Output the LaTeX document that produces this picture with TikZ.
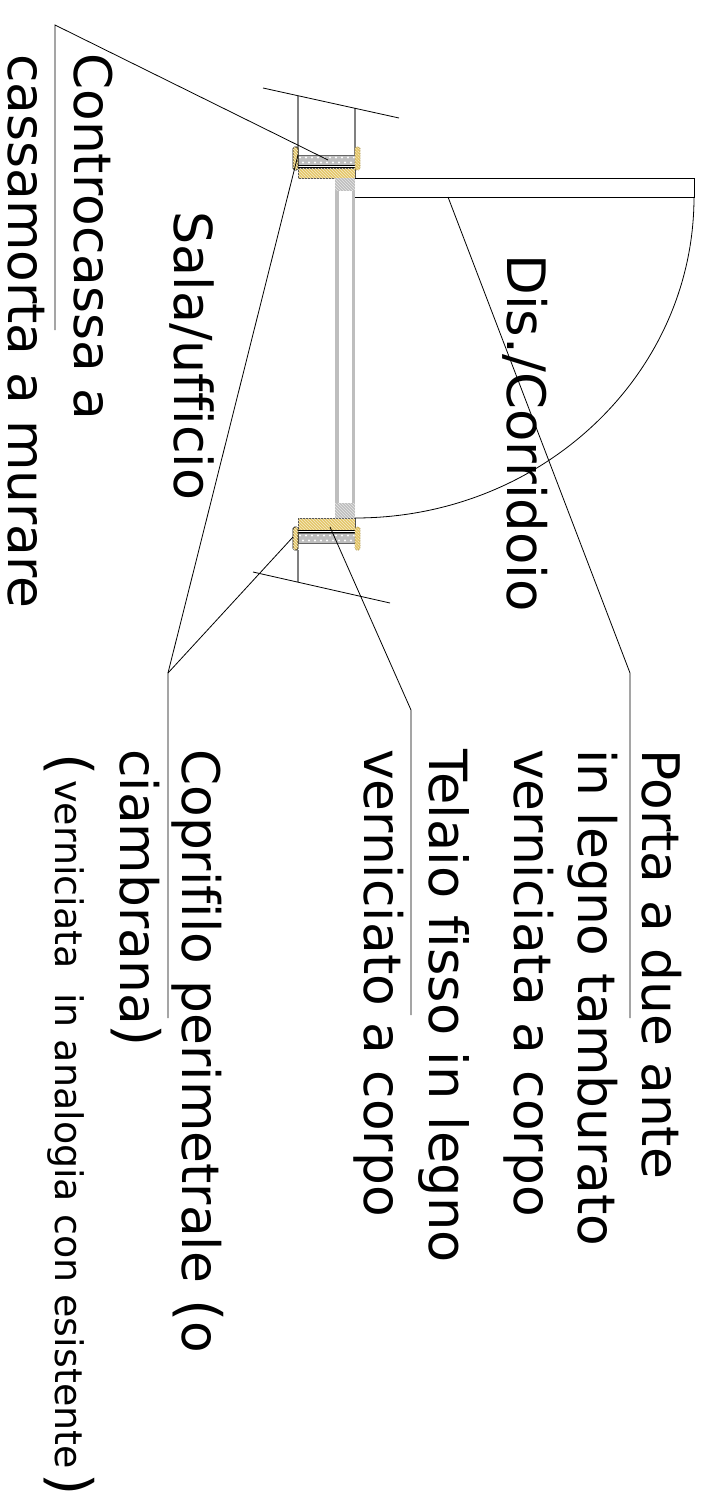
\documentclass[tikz,border=0pt]{standalone}
\usepackage{fontspec}
\setmainfont{DejaVu Sans}[Ligatures=NoCommon]
\usetikzlibrary{patterns}
\definecolor{woodyellow}{RGB}{228,198,105}
\definecolor{fillgray}{RGB}{190,190,190}
\newcommand{\sizedtext}[1]{\fontsize{#1}{60}\selectfont}
\newcommand{\tallparen}[2]{\raisebox{#1}{\sizedtext{57}#2}}
\tikzset{
  bigtext/.style={inner sep=0pt,rotate=-90,anchor=base west,font=\sizedtext{51.8}},
  leader/.style={black,line width=0.8pt},
  wall/.style={gray,line width=1.3pt},
  wood/.style={fill=woodyellow,postaction={pattern=north west lines,pattern color=woodyellow!35!white}},
  insul/.style={fill=fillgray},
  grain/.style={white,inner sep=0pt},
  leafcore/.style={fill=fillgray,postaction={pattern=north west lines,pattern color=fillgray!35!white}},
}
\begin{document}
\begin{tikzpicture}[x=1pt,y=-1pt]
\useasboundingbox (0,0) rectangle (714,1506);
% walls
\draw [wall] (298,96) -- (298,155);
\draw [wall] (355,108) -- (355,155);
\draw [wall] (298,550) -- (298,582);
\draw [leader] (263,88) -- (399,118);
\draw [leader] (253,572) -- (390,603);
% top jamb
\draw [insul,draw=black!60,line width=0.4pt] (298,155) rectangle (355,165);
\draw [wood,draw=black!70,line width=0.7pt] (298,168) rectangle (355,178.5);
\foreach \x in {300,306,...,354} {
  \fill [grain] (\x,157.5) circle (1.1);
  \fill [grain] (\x+3,162.5) circle (1.1);
}
\draw [black,line width=1.1pt] (298,165.5) -- (355,165.5);
\draw [black,line width=0.8pt] (298,167.5) -- (355,167.5);
\draw [wood,draw=black,line width=0.7pt,rounded corners=1.5pt] (293,147) rectangle (298,170);
\draw [wood,draw=woodyellow!70!black,densely dotted,line width=0.7pt,rounded corners=1.5pt] (355,147) rectangle (360,170);
% bottom jamb
\draw [wood,draw=black!70,line width=0.7pt] (298,518) rectangle (355,530);
\draw [black,line width=1.1pt] (298,530.5) -- (355,530.5);
\draw [black,line width=0.8pt] (298,532.5) -- (355,532.5);
\draw [insul,draw=black!60,line width=0.4pt] (298,533) rectangle (355,543);
\foreach \x in {300,306,...,354} {
  \fill [grain] (\x,535.5) circle (1.1);
  \fill [grain] (\x+3,540.5) circle (1.1);
}
\draw [wood,draw=black,line width=0.7pt,rounded corners=1.5pt] (293,527) rectangle (298,550);
\draw [wood,draw=woodyellow!70!black,densely dotted,line width=0.7pt,rounded corners=1.5pt] (355,527) rectangle (360,550);
% closed door
\fill [fillgray] (335,191) rectangle (338.5,503);
\fill [fillgray] (351.5,191) rectangle (355,503);
\draw [leafcore,draw=none] (335,178.5) rectangle (355,191);
\draw [leafcore,draw=none] (335,503) rectangle (355,518);
% open door
\draw [leader] (355,178.5) -- (694,178.5) -- (694,197) -- (355,197);
\draw [leader] (694,197) arc [start angle=0,end angle=90,x radius=339,y radius=321];
% leaders
\coordinate (contro0) at (328,160);
\coordinate (contro1) at (55,25);
\coordinate (contro2) at (55,330);
\coordinate (porta0) at (448,197);
\coordinate (porta1) at (630,673);
\coordinate (porta2) at (630,1018);
\coordinate (telaio0) at (330,527);
\coordinate (telaio1) at (411,710);
\coordinate (telaio2) at (411,1015);
\coordinate (copri0) at (298,155);
\coordinate (copri1) at (293,537);
\coordinate (copri2) at (168,673);
\coordinate (copri3) at (168,1018);
\draw [leader] (contro0) -- (contro1) -- (contro2);
\draw [leader] (porta0) -- (porta1) -- (porta2);
\draw [leader] (telaio0) -- (telaio1) -- (telaio2);
\draw [leader] (copri0) -- (copri2) -- (copri3);
\draw [leader] (copri1) -- (copri2);
% labels
\node [bigtext] (contro) at (74,53) {Controcassa a};
\node [bigtext] (cassa) at (9,54) {cassamorta a murare};
\node [bigtext,font=\sizedtext{52.3}] (sala) at (174,211) {Sala/ufficio};
\node [bigtext,font=\sizedtext{53}] (dis) at (507,254) {Dis./Corridoio};
\node [bigtext] (porta) at (642,749) {Porta a due ante};
\node [bigtext] (legno) at (578,749) {in legno tamburato};
\node [bigtext] (vern) at (514,749) {verniciata a corpo};
\node [bigtext,font=\sizedtext{52.6}] (telaio) at (429,749) {Telaio fisso in legno};
\node [bigtext] (corpo) at (364,749) {verniciato a corpo};
\node [bigtext] (copri) at (182,749) {Coprifilo perimetrale \tallparen{-2pt}{(}o};
\node [bigtext] (ciamb) at (120,749) {ciambrana\tallparen{-2pt}{)}};
\node [bigtext] (analog) at (55,753) {\tallparen{-4pt}{(}\hspace{5pt}{\sizedtext{38}verniciata\ \ in analogia con esistente}\hspace{5pt}\tallparen{-4pt}{)}};
\end{tikzpicture}
\end{document}
